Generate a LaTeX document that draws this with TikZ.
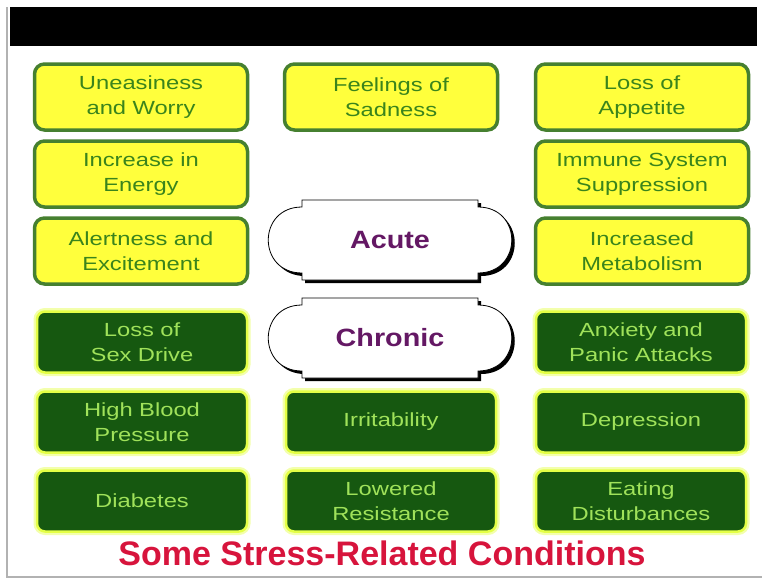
\documentclass[tikz,border=0pt]{standalone}
\usepackage{fontspec}
\setmainfont{Liberation Sans}
\newfontfamily\boxfont[FakeStretch=1.25]{Liberation Sans}
\newfontfamily\plaquefont[FakeStretch=1.15]{Liberation Sans}

\definecolor{paleyellow}{RGB}{255,255,60}
\definecolor{leafgreen}{RGB}{70,128,48}
\definecolor{leaftext}{RGB}{58,132,28}
\definecolor{darkleaf}{RGB}{22,88,16}
\definecolor{glowyellow}{RGB}{228,255,70}
\definecolor{limetext}{RGB}{160,226,90}
\definecolor{plum}{RGB}{100,24,100}
\definecolor{crimson}{RGB}{215,20,60}

\begin{document}
\begin{tikzpicture}[x=1pt,y=-1pt]

\tikzset{
  acute box/.style={
    rounded corners=10pt,
    fill=paleyellow,
    draw=leafgreen,
    line width=3.5pt,
    text=leaftext,
    font={\boxfont\fontsize{19}{25}\selectfont},
    align=center,
    text width=193pt,
    inner xsep=10pt,
    inner ysep=0pt,
    minimum height=66pt,
  },
  chronic box/.style={
    rounded corners=8pt,
    fill=darkleaf,
    draw=glowyellow,
    line width=2.5pt,
    preaction={draw=glowyellow!45, line width=7pt},
    text=limetext,
    font={\boxfont\fontsize{19}{25}\selectfont},
    align=center,
    text width=190pt,
    inner xsep=10pt,
    inner ysep=0pt,
    minimum height=61pt,
  },
  plaque text/.style={
    text=plum,
    font={\plaquefont\bfseries\fontsize{25}{30}\selectfont},
  },
  plaque shadow/.style={fill=black},
  plaque body/.style={fill=white, draw=black, line width=0.8pt},
}

\useasboundingbox (0,0) rectangle (762,578);

% Frame and header bar
\fill[black] (10,7) rectangle (757,46);
\draw[black!30, line width=1.5pt] (7,7) -- (7,577) -- (762,577);

% Acute: row 1
\node[acute box] (unease)   at (141,97)  {Uneasiness\\and Worry};
\node[acute box] (sadness)  at (391,97)  {Feelings of\\Sadness};
\node[acute box] (appetite) at (642,97)  {Loss of\\Appetite};

% Acute: row 2
\node[acute box] (energy)   at (141,174) {Increase in\\Energy};
\node[acute box] (immune)   at (642,174) {Immune System\\Suppression};

% Acute: row 3
\node[acute box] (alert)    at (141,251) {Alertness and\\Excitement};
\node[acute box] (metab)    at (642,251) {Increased\\Metabolism};

% Plaque: Acute
\coordinate (acutepos) at (390,240);
\begin{scope}[shift={(acutepos)}]
  \begin{scope}[shift={(3,3)}]
    \fill[plaque shadow] (-88,-40) -- (88,-40) -- (88,-33)
      .. controls (133,-33) and (133,33) .. (88,33) -- (88,40) -- (-88,40) -- (-88,33)
      .. controls (-133,33) and (-133,-33) .. (-88,-33) -- cycle;
  \end{scope}
  \filldraw[plaque body] (-88,-40) -- (88,-40) -- (88,-33)
    .. controls (133,-33) and (133,33) .. (88,33) -- (88,40) -- (-88,40) -- (-88,33)
    .. controls (-133,33) and (-133,-33) .. (-88,-33) -- cycle;
\end{scope}
\node[plaque text] (acute) at (acutepos) {Acute};

% Plaque: Chronic
\coordinate (chronicpos) at (390,338);
\begin{scope}[shift={(chronicpos)}]
  \begin{scope}[shift={(3,3)}]
    \fill[plaque shadow] (-88,-40) -- (88,-40) -- (88,-33)
      .. controls (133,-33) and (133,33) .. (88,33) -- (88,40) -- (-88,40) -- (-88,33)
      .. controls (-133,33) and (-133,-33) .. (-88,-33) -- cycle;
  \end{scope}
  \filldraw[plaque body] (-88,-40) -- (88,-40) -- (88,-33)
    .. controls (133,-33) and (133,33) .. (88,33) -- (88,40) -- (-88,40) -- (-88,33)
    .. controls (-133,33) and (-133,-33) .. (-88,-33) -- cycle;
\end{scope}
\node[plaque text] (chronic) at (chronicpos) {Chronic};

% Chronic: row 1
\node[chronic box] (sexdrive) at (142,342) {Loss of\\Sex Drive};
\node[chronic box] (anxiety)  at (641,342) {Anxiety and\\Panic Attacks};

% Chronic: row 2
\node[chronic box] (blood)    at (142,422) {High Blood\\Pressure};
\node[chronic box] (irrit)    at (391,422) {Irritability};
\node[chronic box] (depress)  at (641,422) {Depression};

% Chronic: row 3
\node[chronic box] (diabetes) at (142,501) {Diabetes};
\node[chronic box] (resist)   at (391,501) {Lowered\\Resistance};
\node[chronic box] (eating)   at (641,501) {Eating\\Disturbances};

% Caption
\node[text=crimson, font={\bfseries\fontsize{34}{38}\selectfont}] (caption) at (382,553)
  {Some Stress-Related Conditions};

\end{tikzpicture}
\end{document}
